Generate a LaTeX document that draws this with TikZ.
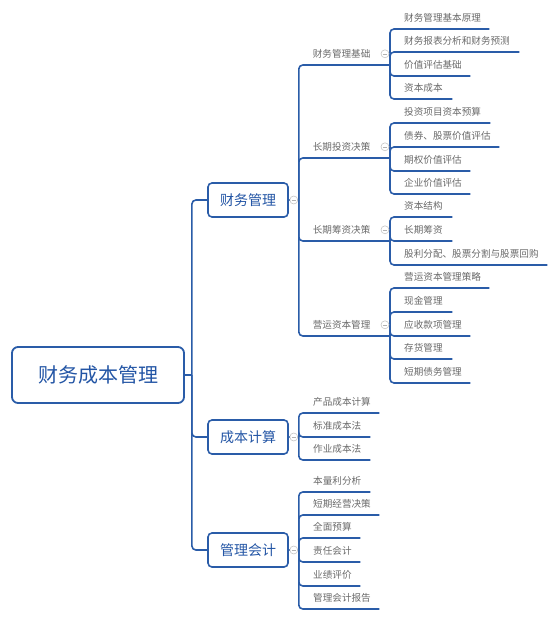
\documentclass[tikz,border=0pt]{standalone}
\usepackage{fontspec}
\newfontfamily\cjk{Noto Sans CJK SC}
\usetikzlibrary{positioning}
\definecolor{linecol}{RGB}{42,92,168}
\definecolor{boxtext}{RGB}{35,85,165}
\definecolor{leaftext}{RGB}{105,105,105}

\begin{document}
\begin{tikzpicture}[x=1pt, y=-1pt,
  rootbox/.style={draw=linecol, line width=1.8pt, rounded corners=6pt, fill=white, text=boxtext,
    font=\cjk\fontsize{20}{24}\selectfont, minimum width=172pt, minimum height=56pt},
  mainbox/.style={draw=linecol, line width=1.6pt, rounded corners=4pt, fill=white, text=boxtext,
    font=\cjk\fontsize{14}{17}\selectfont, minimum width=80pt, minimum height=34pt},
  leaf/.style={anchor=south west, inner xsep=0pt, inner ysep=7pt, text height=8pt, text depth=0pt,
    align=left, text=leaftext, font=\cjk\fontsize{9.6}{11}\selectfont},
  sub/.style={leaf, anchor=south east, text width=77pt},
  branch/.style={draw=linecol, line width=1.6pt, rounded corners=4pt},
  fold/.style={circle, draw=gray!45, fill=white, line width=0.6pt, minimum size=8pt, inner sep=0pt,
    path picture={\draw[gray!60, line width=0.6pt] ([xshift=1.8pt]path picture bounding box.west)
      -- ([xshift=-1.8pt]path picture bounding box.east);}}]

\useasboundingbox (0,0) rectangle (558,619);

% Korzeń i gałęzie główne
\node[rootbox] (root) at (98,375) {财务成本管理};
\node[mainbox] (m1) at (248,200) {财务管理};
\node[mainbox] (m2) at (248,437) {成本计算};
\node[mainbox] (m3) at (248,550) {管理会计};

\coordinate (j0) at ([xshift=7pt]root.east);
\draw[branch] (root.east) -- (j0);
\foreach \m in {1,2,3} {
  \draw[branch] (j0) |- (m\m.west);
  \coordinate (j\m) at ([xshift=10pt]m\m.east);
  \draw[branch] (m\m.east) -- (j\m);
}

% Poziom 2: 财务管理
\foreach \i/\y/\t in {1/65/财务管理基础, 2/158/长期投资决策, 3/241/长期筹资决策, 4/336/营运资本管理} {
  \node[sub] (b\i) at (390,\y) {\t};
  \draw[branch] (j1) |- (b\i.south east);
}

% Liście poziomu 3
\foreach \i/\y/\w/\t in {1/29/85/财务管理基本原理, 2/52/115/财务报表分析和财务预测,
  3/76/66/价值评估基础, 4/99/48/资本成本} {
  \node[leaf, text width=\w pt] (a\i) at (404,\y) {\t};
  \draw[branch] (b1.south east) |- (a\i.south east);
}
\foreach \i/\y/\w/\t in {1/123/86/投资项目资本预算, 2/147/95/债券、股票价值评估,
  3/171/66/期权价值评估, 4/194/66/企业价值评估} {
  \node[leaf, text width=\w pt] (c\i) at (404,\y) {\t};
  \draw[branch] (b2.south east) |- (c\i.south east);
}
\foreach \i/\y/\w/\t in {1/217/48/资本结构, 2/241/48/长期筹资, 3/265/143/股利分配、股票分割与股票回购} {
  \node[leaf, text width=\w pt] (d\i) at (404,\y) {\t};
  \draw[branch] (b3.south east) |- (d\i.south east);
}
\foreach \i/\y/\w/\t in {1/288/85/营运资本管理策略, 2/312/48/现金管理, 3/336/66/应收款项管理,
  4/359/48/存货管理, 5/383/66/短期债务管理} {
  \node[leaf, text width=\w pt] (e\i) at (404,\y) {\t};
  \draw[branch] (b4.south east) |- (e\i.south east);
}

% Liście: 成本计算, 管理会计
\foreach \i/\y/\w/\t in {1/413/66/产品成本计算, 2/437/57/标准成本法, 3/460/57/作业成本法} {
  \node[leaf, text width=\w pt] (f\i) at (313,\y) {\t};
  \draw[branch] (j2) |- (f\i.south east);
}
\foreach \i/\y/\w/\t in {1/492/57/本量利分析, 2/515/66/短期经营决策, 3/538/47/全面预算,
  4/562/47/责任会计, 5/586/47/业绩评价, 6/609/66/管理会计报告} {
  \node[leaf, text width=\w pt] (g\i) at (313,\y) {\t};
  \draw[branch] (j3) |- (g\i.south east);
}

% Znaczniki zwijania
\foreach \m in {1,2,3} \node[fold] (fm\m) at ([xshift=5pt]m\m.east) {};
\foreach \i in {1,...,4} \node[fold] (fb\i) at ([xshift=-5pt]b\i.east) {};

\end{tikzpicture}
\end{document}
